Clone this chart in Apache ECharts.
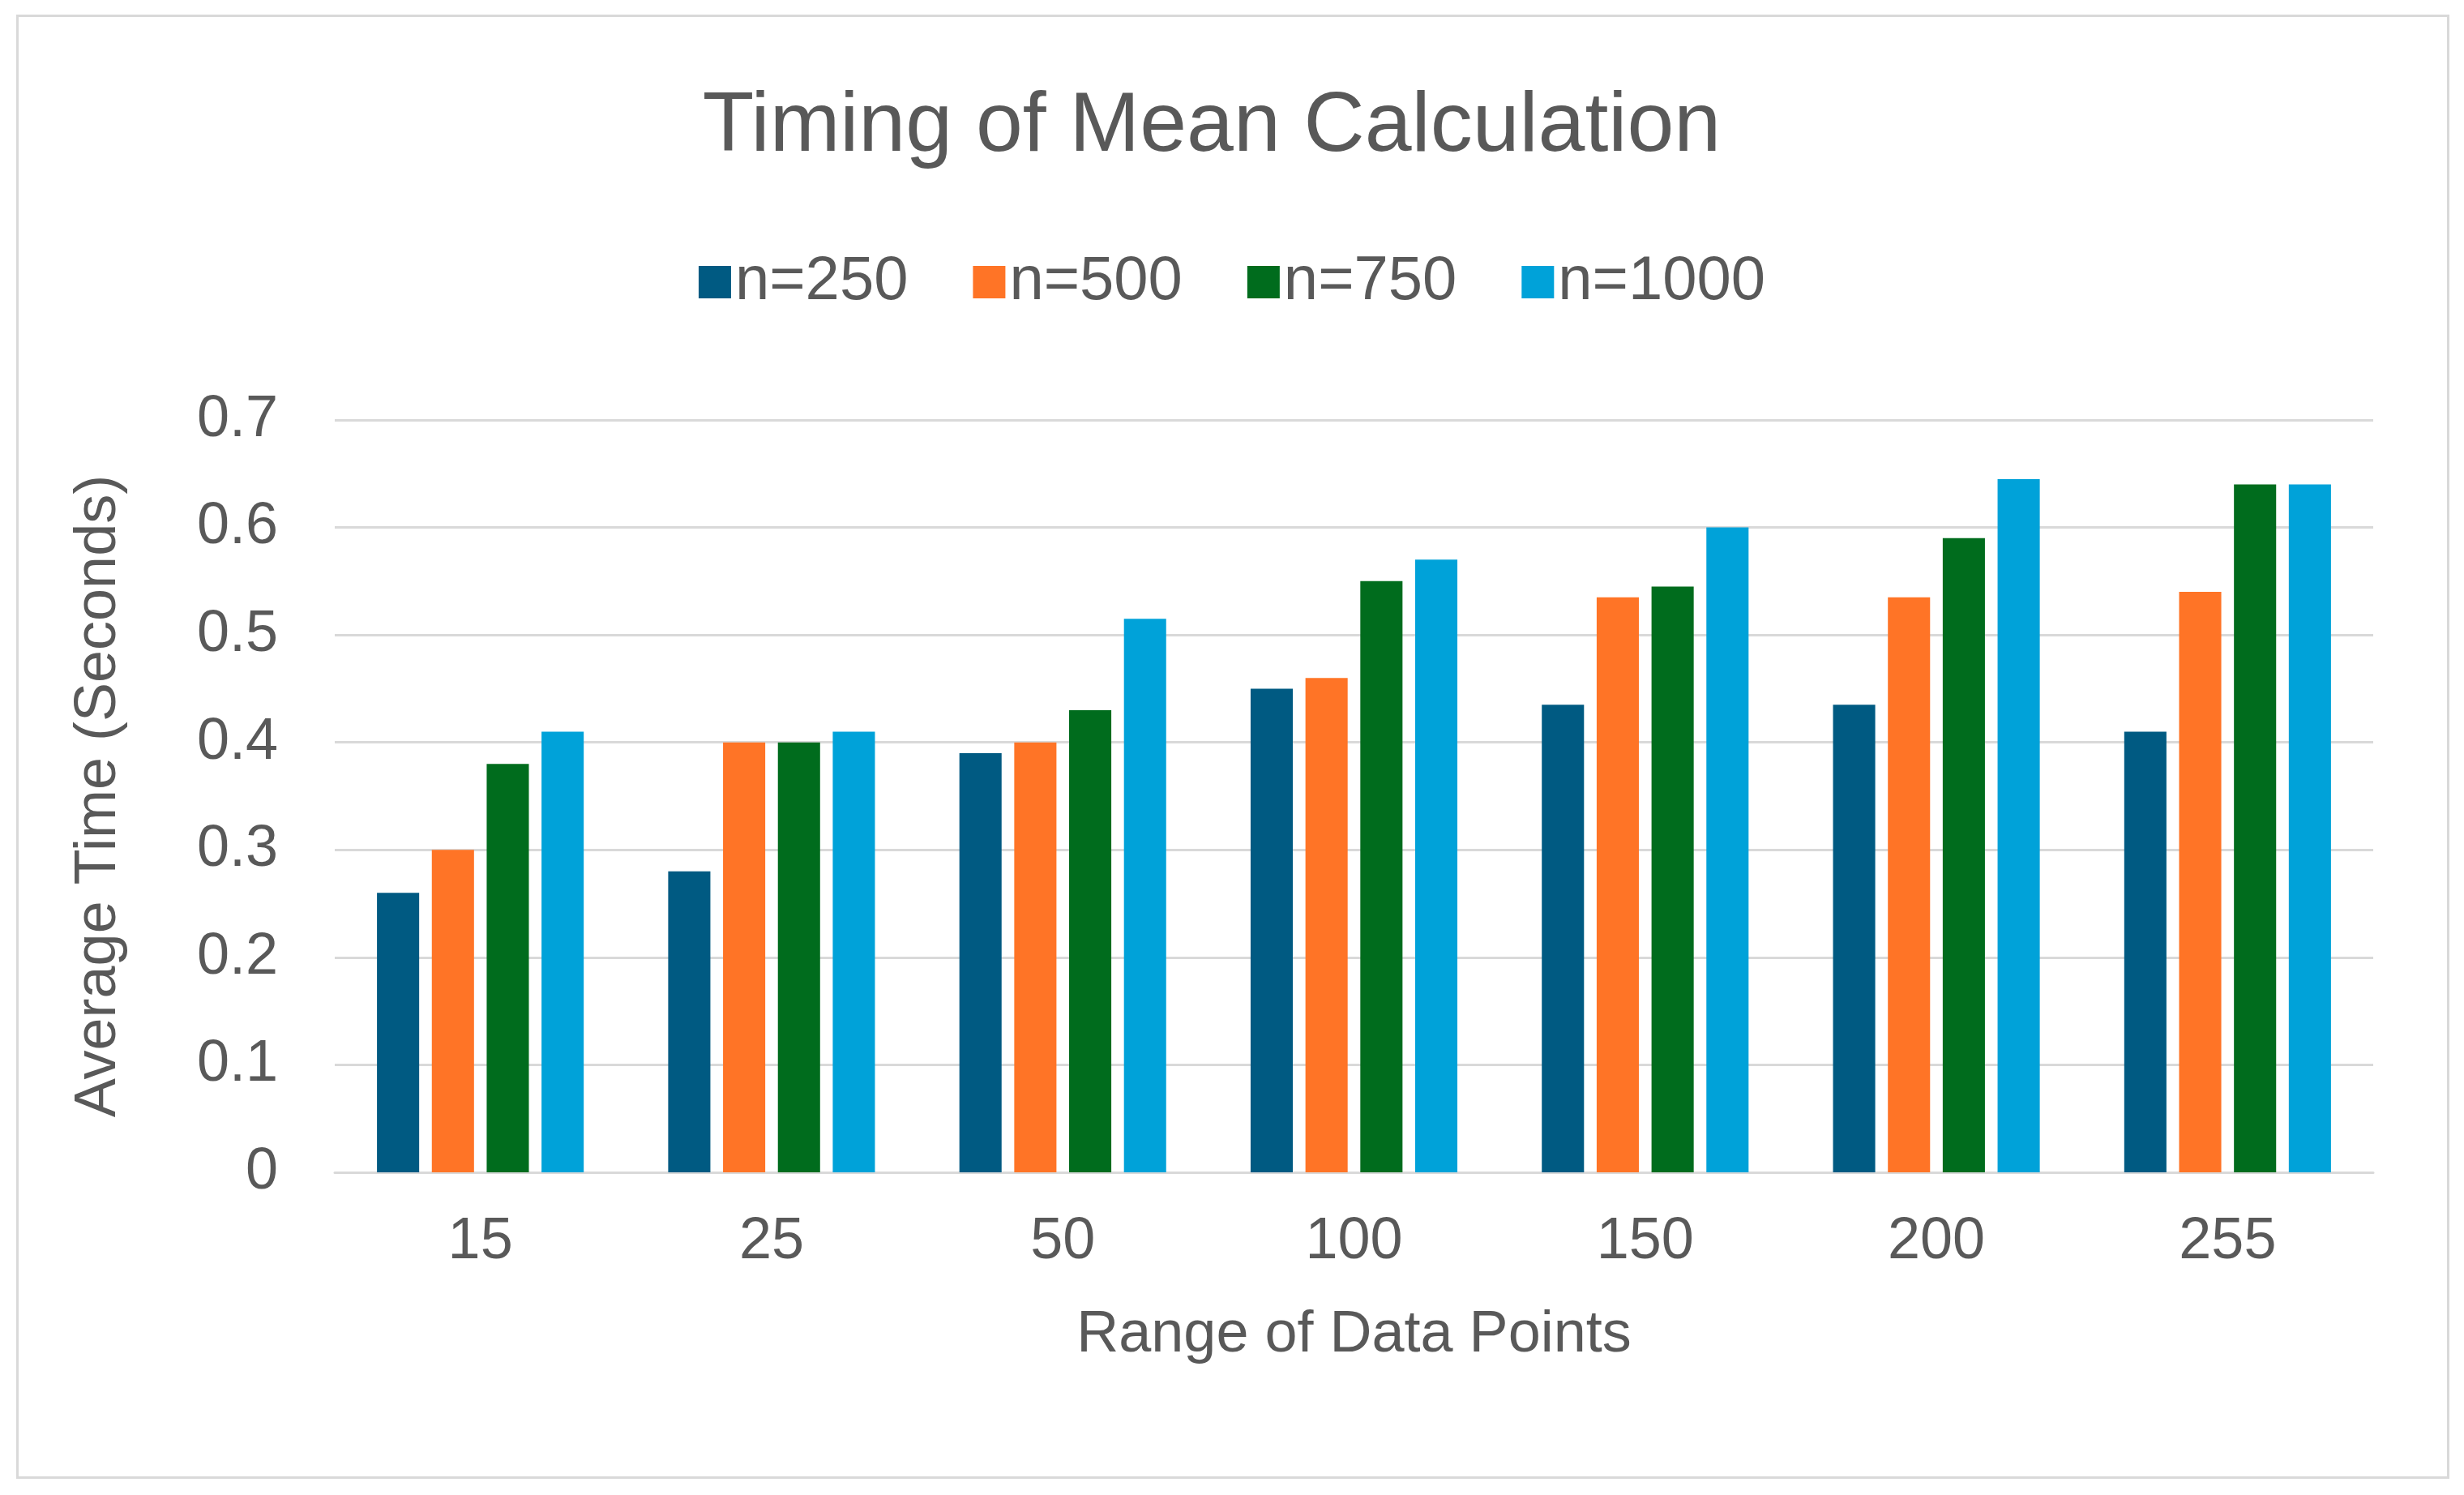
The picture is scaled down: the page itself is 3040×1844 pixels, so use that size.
<!DOCTYPE html><html><head><meta charset="utf-8">
<script src="https://cdn.jsdelivr.net/npm/echarts@6/dist/echarts.min.js"></script>
<style>html,body{margin:0;padding:0;background:#fff}#c{width:3040px;height:1844px}
#b{position:absolute;left:20px;top:18px;width:2996px;height:1800px;border:3px solid #d9d9d9;pointer-events:none}</style>
</head><body><div id="c"></div><div id="b"></div>
<script>
const categories=['15','25','50','100','150','200','255'];
const n250=[0.26,0.28,0.39,0.45,0.435,0.435,0.41];
const n500=[0.30,0.40,0.40,0.46,0.535,0.535,0.54];
const n750=[0.38,0.40,0.43,0.55,0.545,0.59,0.64];
const n1000=[0.41,0.41,0.515,0.57,0.60,0.645,0.64];
const yTicks=[0,0.1,0.2,0.3,0.4,0.5,0.6,0.7];
const F='"Liberation Sans Narrow","Liberation Sans",Arial,sans-serif';
const g='#595959';
const mk=(name,data,color)=>({name,type:'bar',data,itemStyle:{color},barGap:'30%',barCategoryGap:'29%'});
const ch=echarts.init(document.getElementById('c'));
ch.setOption({
 animation:false,
 title:{text:'Timing of Mean Calculation',left:1490,textAlign:'center',top:100,textStyle:{fontFamily:F,fontWeight:'normal',fontSize:104,color:g}},
 legend:{top:305,left:'center',itemWidth:40,itemHeight:40,itemGap:80,icon:'rect',textStyle:{fontFamily:F,fontSize:76,color:g}},
 grid:{left:413,right:112,top:518,bottom:398},
 xAxis:{type:'category',data:categories,axisTick:{show:false},axisLine:{lineStyle:{color:'#d9d9d9',width:3}},
  axisLabel:{fontFamily:F,fontSize:72,color:g,margin:50},
  name:'Range of Data Points',nameLocation:'middle',nameGap:165,nameTextStyle:{fontFamily:F,fontSize:72,color:g}},
 yAxis:{type:'value',min:0,max:0.7,interval:0.1,
  axisLabel:{fontFamily:F,fontSize:72,color:g,margin:70,formatter:v=>{const t=yTicks.find(x=>Math.abs(x-v)<1e-9);return String(+((t??v).toFixed(1)));}},
  splitLine:{lineStyle:{color:'#d9d9d9',width:3}},
  name:'Average Time (Seconds)',nameLocation:'middle',nameGap:255,nameTextStyle:{fontFamily:F,fontSize:72,color:g}},
 series:[mk('n=250',n250,'#005A82'),mk('n=500',n500,'#FF7426'),mk('n=750',n750,'#006C1D'),mk('n=1000',n1000,'#00A2D9')]
});
</script></body></html>
